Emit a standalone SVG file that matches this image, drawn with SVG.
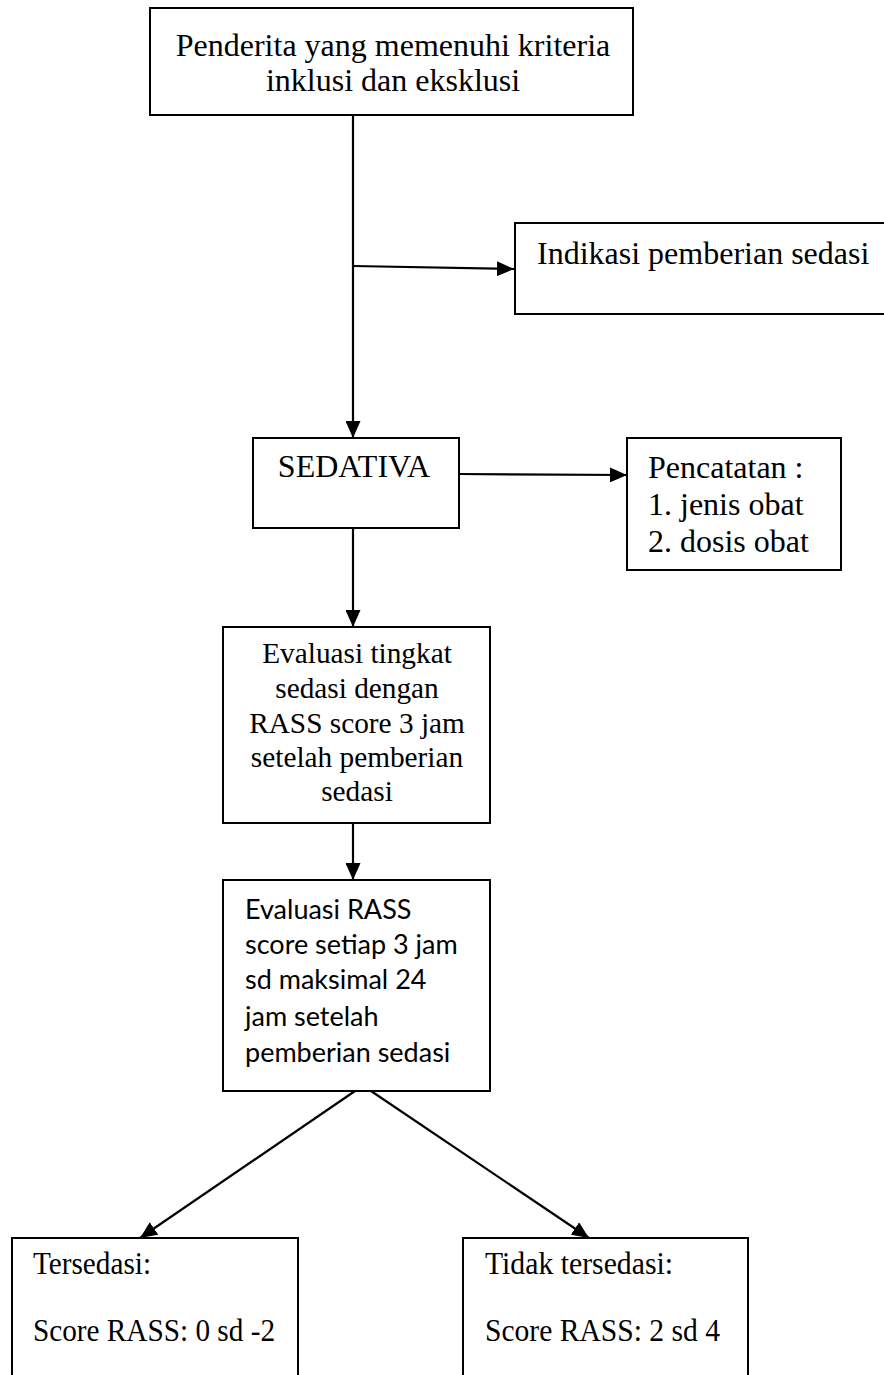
<svg xmlns="http://www.w3.org/2000/svg" width="884" height="1375" viewBox="0 0 884 1375">
  <style>
    .box { fill: #ffffff; stroke: #000000; stroke-width: 2; }
    .serif { font-family: "Liberation Serif", "Times New Roman", serif; fill: #000000; }
    .sans { font-family: Lato, "Open Sans", sans-serif; font-size: 27px; fill: #000000; }
    .s22 { font-size: 29.3px; }
    .s24 { font-size: 32px; }
    .mid { text-anchor: middle; }
    .link { fill: none; stroke: #000000; stroke-width: 2.2; marker-end: url(#arrow); }
  </style>
  <defs>
    <marker id="arrow" markerUnits="userSpaceOnUse" markerWidth="17" markerHeight="15" refX="17" refY="7.5" orient="auto">
      <path d="M0,0 L17,7.5 L0,15 Z" fill="#000000"/>
    </marker>
  </defs>
  <rect width="884" height="1375" fill="#ffffff"/>

  <!-- connectors -->
  <g id="connectors">
    <line class="link" x1="353" y1="115" x2="353" y2="438"/>
    <line class="link" x1="353" y1="266" x2="514" y2="269"/>
    <line class="link" x1="459" y1="474" x2="627" y2="475"/>
    <line class="link" x1="353" y1="528" x2="353" y2="627"/>
    <line class="link" x1="353" y1="823" x2="353" y2="880"/>
    <line class="link" x1="355" y1="1091" x2="140" y2="1238"/>
    <line class="link" x1="371" y1="1091" x2="589" y2="1238"/>
  </g>

  <g id="node-penderita">
    <rect class="box" x="150" y="8" width="483" height="107"/>
    <text class="serif s24 mid" x="393" y="56">Penderita yang memenuhi kriteria</text>
    <text class="serif s24 mid" x="393" y="91">inklusi dan eksklusi</text>
  </g>

  <g id="node-indikasi">
    <rect class="box" x="515" y="223" width="370" height="91"/>
    <text class="serif s24" x="537" y="264">Indikasi pemberian sedasi</text>
  </g>

  <g id="node-sedativa">
    <rect class="box" x="253" y="438" width="206" height="90"/>
    <text class="serif s24 mid" x="354" y="477">SEDATIVA</text>
  </g>

  <g id="node-pencatatan">
    <rect class="box" x="627" y="438" width="214" height="132"/>
    <text class="serif s24" x="648" y="478">Pencatatan :</text>
    <text class="serif s24" x="648" y="515">1. jenis obat</text>
    <text class="serif s24" x="648" y="552">2. dosis obat</text>
  </g>

  <g id="node-evaluasi-tingkat">
    <rect class="box" x="223" y="627" width="267" height="196"/>
    <text class="serif s22 mid" x="357" y="663">Evaluasi tingkat</text>
    <text class="serif s22 mid" x="357" y="698">sedasi dengan</text>
    <text class="serif s22 mid" x="357" y="733">RASS score 3 jam</text>
    <text class="serif s22 mid" x="357" y="767">setelah pemberian</text>
    <text class="serif s22 mid" x="357" y="801">sedasi</text>
  </g>

  <g id="node-evaluasi-rass">
    <rect class="box" x="223" y="880" width="267" height="211"/>
    <text class="sans" x="245" y="919">Evaluasi RASS</text>
    <text class="sans" x="245" y="954">score setiap 3 jam</text>
    <text class="sans" x="245" y="989">sd maksimal 24</text>
    <text class="sans" x="245" y="1026">jam setelah</text>
    <text class="sans" x="245" y="1062">pemberian sedasi</text>
  </g>

  <g id="node-tersedasi">
    <rect class="box" x="12" y="1238" width="286" height="150"/>
    <text class="serif s24" x="33" y="1274" textLength="118" lengthAdjust="spacingAndGlyphs">Tersedasi:</text>
    <text class="serif s24" x="33" y="1341" textLength="242" lengthAdjust="spacingAndGlyphs">Score RASS: 0 sd -2</text>
  </g>

  <g id="node-tidak-tersedasi">
    <rect class="box" x="463" y="1238" width="285" height="150"/>
    <text class="serif s24" x="485" y="1274" textLength="188" lengthAdjust="spacingAndGlyphs">Tidak tersedasi:</text>
    <text class="serif s24" x="485" y="1341" textLength="235" lengthAdjust="spacingAndGlyphs">Score RASS: 2 sd 4</text>
  </g>
</svg>
